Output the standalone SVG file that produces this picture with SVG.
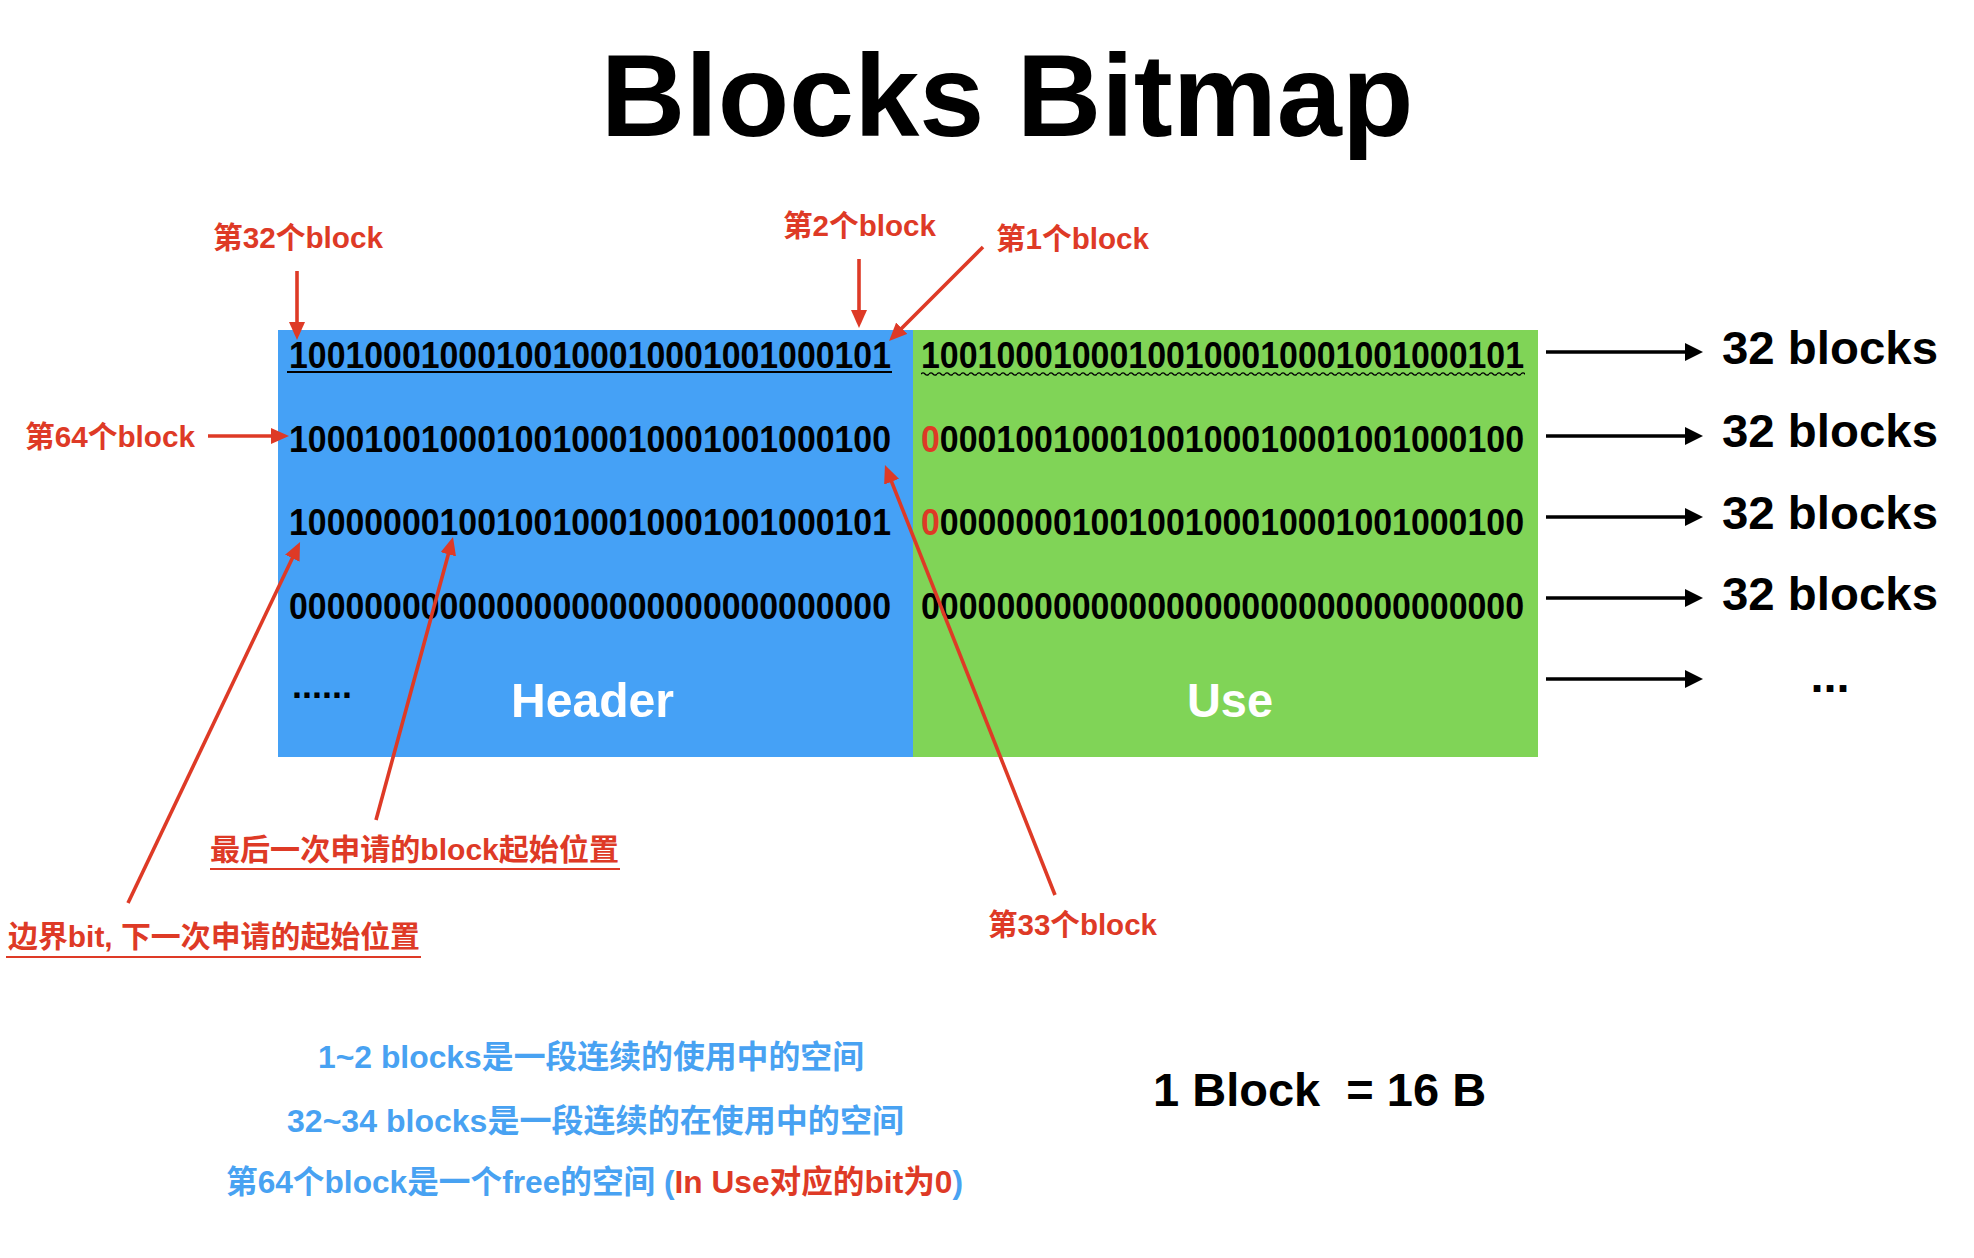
<svg xmlns="http://www.w3.org/2000/svg" width="1974" height="1258" viewBox="0 0 1974 1258">
  <style>
    .bg { fill: #ffffff; }
    .title { font-family: "Liberation Sans", Arial, sans-serif; font-weight: 700; font-size: 117px; fill: #000; }
    .bits { font-family: "Liberation Sans", Arial, sans-serif; font-weight: 700; font-size: 36px; fill: #000; }
    .red { fill: #DE3A26; }
    .lbl { font-family: "Liberation Sans", "Noto Sans CJK SC", sans-serif; font-weight: 700; font-size: 30px; fill: #DE3A26; }
    .zone { font-family: "Liberation Sans", Arial, sans-serif; font-weight: 700; font-size: 48px; fill: #ffffff; }
    .count { font-family: "Liberation Sans", Arial, sans-serif; font-weight: 700; font-size: 47px; fill: #000; }
    .note { font-family: "Liberation Sans", "Noto Sans CJK SC", sans-serif; font-weight: 700; font-size: 32px; fill: #48A2F2; }
    .redline { stroke: #DE3A26; stroke-width: 3.6; fill: none; marker-end: url(#ahRed); }
    .blackline { stroke: #000; stroke-width: 3.4; fill: none; marker-end: url(#ahBlack); }
    .uline { stroke-width: 2.2; }
  </style>
  <defs>
    <marker id="ahRed" markerUnits="userSpaceOnUse" markerWidth="18" markerHeight="16" viewBox="0 0 18 16" refX="10" refY="8" orient="auto">
      <path d="M0,0 L18,8 L0,16 z" fill="#DE3A26"/>
    </marker>
    <marker id="ahBlack" markerUnits="userSpaceOnUse" markerWidth="18" markerHeight="18" viewBox="0 0 18 18" refX="10" refY="9" orient="auto">
      <path d="M0,0 L18,9 L0,18 z" fill="#000"/>
    </marker>
    <pattern id="wave" patternUnits="userSpaceOnUse" x="921" y="371" width="8" height="6">
      <path d="M0,3 Q2,0.6 4,3 T8,3" stroke="#000" stroke-width="1.3" fill="none"/>
    </pattern>
  </defs>

  <rect class="bg" x="0" y="0" width="1974" height="1258"/>

  <g id="title">
    <text class="title" x="1007" y="136" text-anchor="middle">Blocks Bitmap</text>
  </g>

  <g id="header-block">
    <rect x="278" y="330" width="635" height="427" fill="#45A1F6"/>
    <text class="bits" x="289" y="368" textLength="602" lengthAdjust="spacingAndGlyphs">10010001000100100010001001000101</text>
    <line x1="287" y1="372" x2="892" y2="372" stroke="#000" class="uline"/>
    <text class="bits" x="289" y="452" textLength="602" lengthAdjust="spacingAndGlyphs">10001001000100100010001001000100</text>
    <text class="bits" x="289" y="535" textLength="602" lengthAdjust="spacingAndGlyphs">10000000100100100010001001000101</text>
    <text class="bits" x="289" y="619" textLength="602" lengthAdjust="spacingAndGlyphs">00000000000000000000000000000000</text>
    <text class="bits" x="292" y="698" font-size="32">......</text>
    <text class="zone" x="511" y="717" textLength="163" lengthAdjust="spacingAndGlyphs">Header</text>
  </g>

  <g id="use-block">
    <rect x="913" y="330" width="625" height="427" fill="#80D457"/>
    <text class="bits" x="921" y="368" textLength="603" lengthAdjust="spacingAndGlyphs">10010001000100100010001001000101</text>
    <rect x="921" y="371" width="604" height="6" fill="url(#wave)"/>
    <text class="bits" x="921" y="452" textLength="603" lengthAdjust="spacingAndGlyphs"><tspan class="red">0</tspan>0001001000100100010001001000100</text>
    <text class="bits" x="921" y="535" textLength="603" lengthAdjust="spacingAndGlyphs"><tspan class="red">0</tspan>0000000100100100010001001000100</text>
    <text class="bits" x="921" y="619" textLength="603" lengthAdjust="spacingAndGlyphs">00000000000000000000000000000000</text>
    <text class="zone" x="1187" y="717" textLength="86" lengthAdjust="spacingAndGlyphs">Use</text>
  </g>

  <g id="row-counts">
    <text class="count" x="1722" y="364" textLength="216" lengthAdjust="spacingAndGlyphs">32 blocks</text>
    <text class="count" x="1722" y="447" textLength="216" lengthAdjust="spacingAndGlyphs">32 blocks</text>
    <text class="count" x="1722" y="529" textLength="216" lengthAdjust="spacingAndGlyphs">32 blocks</text>
    <text class="count" x="1722" y="610" textLength="216" lengthAdjust="spacingAndGlyphs">32 blocks</text>
    <text class="count" x="1830" y="692" text-anchor="middle">...</text>
  </g>

  <g id="label-block32">
    <text class="lbl" x="213" y="248" textLength="170" lengthAdjust="spacingAndGlyphs">第32个block</text>
  </g>
  <g id="label-block2">
    <text class="lbl" x="783" y="236" textLength="153" lengthAdjust="spacingAndGlyphs">第2个block</text>
  </g>
  <g id="label-block1">
    <text class="lbl" x="996" y="249" textLength="153" lengthAdjust="spacingAndGlyphs">第1个block</text>
  </g>
  <g id="label-block64">
    <text class="lbl" x="25" y="447" textLength="170" lengthAdjust="spacingAndGlyphs">第64个block</text>
  </g>
  <g id="label-block33">
    <text class="lbl" x="988" y="935" textLength="169" lengthAdjust="spacingAndGlyphs">第33个block</text>
  </g>
  <g id="label-last-alloc">
    <text class="lbl" x="210" y="860" textLength="409" lengthAdjust="spacingAndGlyphs">最后一次申请的block起始位置</text>
    <line x1="210" y1="869" x2="620" y2="869" stroke="#DE3A26" class="uline"/>
  </g>
  <g id="label-boundary">
    <text class="lbl" x="8" y="947" textLength="412" lengthAdjust="spacingAndGlyphs">边界bit, 下一次申请的起始位置</text>
    <line x1="6" y1="957" x2="421" y2="957" stroke="#DE3A26" class="uline"/>
  </g>

  <g id="notes">
    <text class="note" x="318" y="1068" textLength="546" lengthAdjust="spacingAndGlyphs">1~2 blocks是一段连续的使用中的空间</text>
    <text class="note" x="287" y="1132" textLength="617" lengthAdjust="spacingAndGlyphs">32~34 blocks是一段连续的在使用中的空间</text>
    <text class="note" x="226" y="1193" textLength="737" lengthAdjust="spacingAndGlyphs">第64个block是一个free的空间 (<tspan class="red">In Use对应的bit为0</tspan>)</text>
  </g>

  <g id="block-size">
    <text class="count" x="1153" y="1106" xml:space="preserve">1 Block  = 16 B</text>
  </g>

  <g id="connectors">
    <line class="redline" x1="297" y1="271" x2="297" y2="332"/>
    <line class="redline" x1="859" y1="259" x2="859" y2="320"/>
    <line class="redline" x1="983" y1="247" x2="894.7" y2="335.3"/>
    <line class="redline" x1="208" y1="436" x2="281" y2="436"/>
    <line class="redline" x1="1055" y1="895" x2="887.9" y2="472.4"/>
    <line class="redline" x1="376" y1="820" x2="450.9" y2="544.7"/>
    <line class="redline" x1="128" y1="903" x2="296.6" y2="549.2"/>
    <line class="blackline" x1="1546" y1="352" x2="1695" y2="352"/>
    <line class="blackline" x1="1546" y1="436" x2="1695" y2="436"/>
    <line class="blackline" x1="1546" y1="517" x2="1695" y2="517"/>
    <line class="blackline" x1="1546" y1="598" x2="1695" y2="598"/>
    <line class="blackline" x1="1546" y1="679" x2="1695" y2="679"/>
  </g>
</svg>
